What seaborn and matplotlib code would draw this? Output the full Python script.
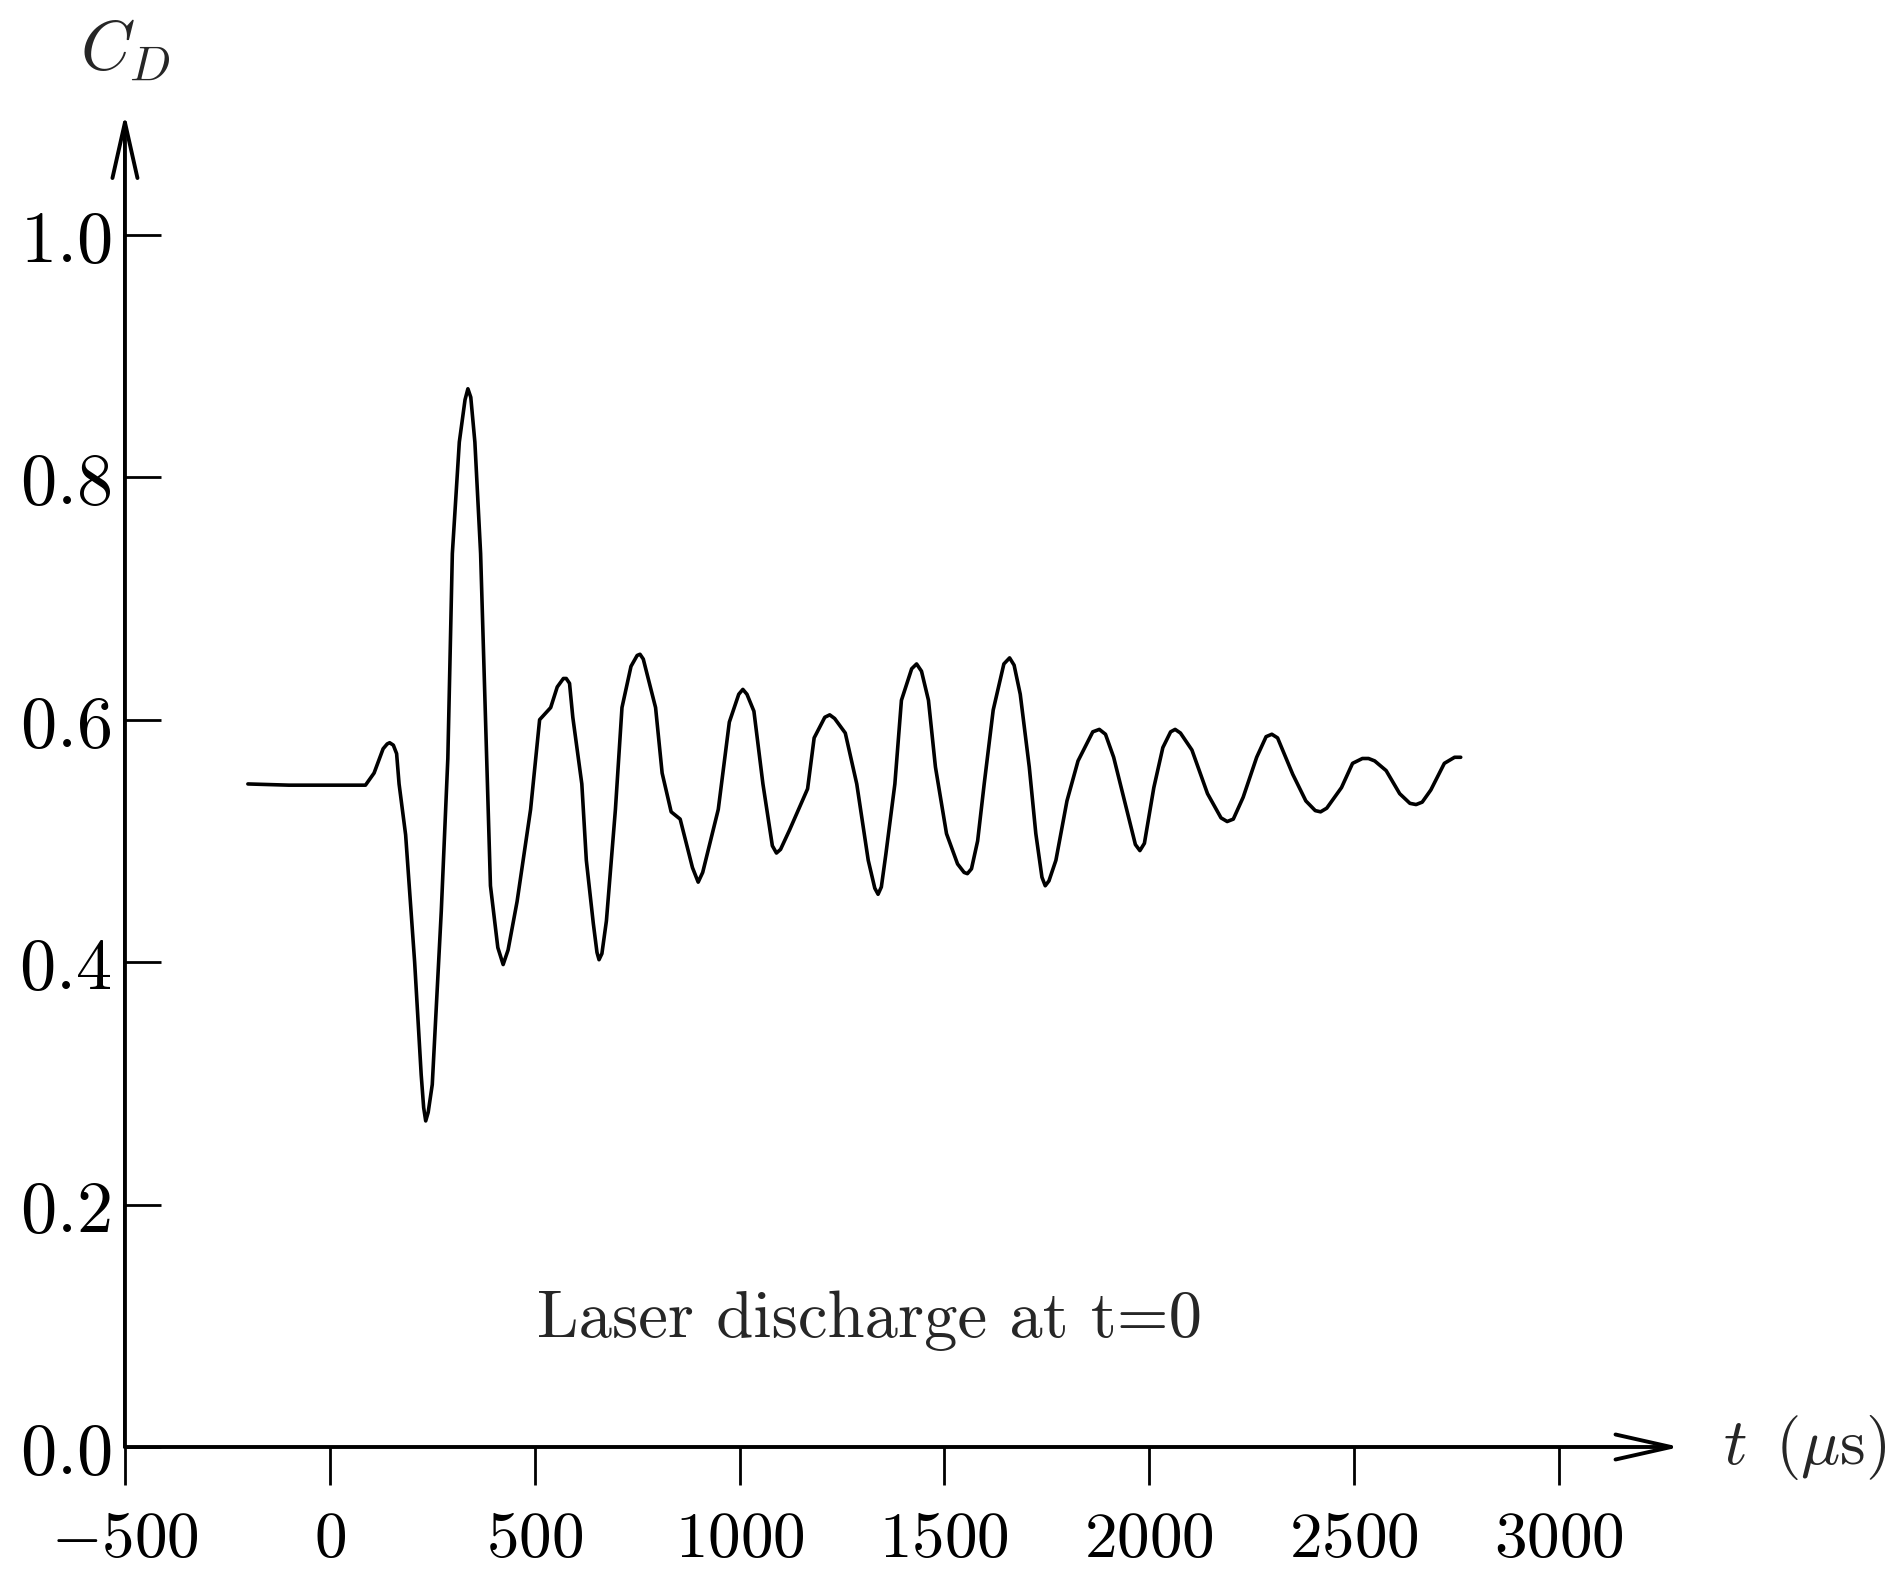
import matplotlib
matplotlib.use("Agg")
import matplotlib.pyplot as plt
import seaborn as sns

# drag coefficient trace
t_us = [-200, -100, 0, 87, 108, 130, 140, 146, 155, 163, 169, 185, 207, 223, 229,
        234, 240, 250, 272, 288, 299, 316, 330, 337, 344, 354, 368, 381, 392, 410,
        423, 435, 457, 490, 512, 539, 555, 570, 577, 585, 593, 615, 626, 643, 652,
        657, 664, 675, 697, 713, 735, 750, 757, 765, 795, 811, 833, 855, 885, 899,
        910, 948, 975, 998, 1008, 1018, 1035, 1057, 1080, 1090, 1100, 1122, 1166,
        1182, 1208, 1220, 1232, 1258, 1286, 1314, 1330, 1338, 1346, 1357, 1379,
        1395, 1420, 1432, 1444, 1461, 1478, 1505, 1532, 1548, 1556, 1566, 1581,
        1597, 1619, 1645, 1659, 1670, 1685, 1707, 1723, 1738, 1746, 1755, 1772,
        1799, 1826, 1862, 1878, 1893, 1913, 1935, 1966, 1977, 1988, 2011, 2033,
        2052, 2063, 2076, 2104, 2142, 2175, 2190, 2205, 2229, 2262, 2285, 2299,
        2313, 2350, 2382, 2405, 2418, 2433, 2469, 2496, 2520, 2535, 2550, 2578,
        2611, 2636, 2651, 2666, 2687, 2720, 2745, 2760]
cd = [0.547, 0.546, 0.546, 0.546, 0.556, 0.576, 0.580, 0.581, 0.579, 0.572, 0.547,
      0.505, 0.400, 0.307, 0.280, 0.269, 0.276, 0.299, 0.442, 0.568, 0.737, 0.829,
      0.864, 0.873, 0.866, 0.829, 0.737, 0.589, 0.463, 0.412, 0.398, 0.410, 0.450,
      0.526, 0.600, 0.610, 0.627, 0.634, 0.634, 0.630, 0.602, 0.547, 0.484, 0.432,
      0.408, 0.402, 0.407, 0.434, 0.526, 0.610, 0.644, 0.653, 0.654, 0.650, 0.610,
      0.556, 0.524, 0.518, 0.478, 0.466, 0.474, 0.526, 0.598, 0.621, 0.625, 0.621,
      0.607, 0.547, 0.496, 0.490, 0.493, 0.509, 0.543, 0.585, 0.602, 0.604, 0.601,
      0.589, 0.547, 0.484, 0.461, 0.456, 0.462, 0.489, 0.547, 0.616, 0.642, 0.646,
      0.640, 0.616, 0.561, 0.506, 0.481, 0.474, 0.473, 0.477, 0.500, 0.547, 0.608,
      0.646, 0.651, 0.645, 0.621, 0.561, 0.506, 0.470, 0.463, 0.467, 0.484, 0.533,
      0.566, 0.590, 0.592, 0.588, 0.569, 0.539, 0.497, 0.492, 0.498, 0.544, 0.577,
      0.590, 0.592, 0.589, 0.575, 0.539, 0.519, 0.516, 0.518, 0.536, 0.569, 0.586,
      0.588, 0.585, 0.555, 0.533, 0.525, 0.524, 0.527, 0.544, 0.564, 0.568, 0.568,
      0.566, 0.558, 0.539, 0.531, 0.530, 0.532, 0.542, 0.564, 0.569, 0.569]

x_ticks = [-500, 0, 500, 1000, 1500, 2000, 2500, 3000]
y_ticks = [0.0, 0.2, 0.4, 0.6, 0.8, 1.0]

sns.set_theme(style="white")
plt.rcParams["mathtext.fontset"] = "cm"

fig = plt.figure(figsize=(18.99, 15.73), dpi=100)
ax = fig.add_axes([0.0658, 0.0801, 0.8415, 0.8862])
ax.set_xlim(-500, 3400)
ax.set_ylim(0.0, 1.15)

sns.lineplot(x=t_us, y=cd, ax=ax, color="black", linewidth=2.6)

for s in ax.spines.values():
    s.set_visible(False)

# axes drawn as arrows, LaTeX style
arrow = dict(arrowstyle="->,head_length=4.0,head_width=0.9", color="black",
             lw=2.8, shrinkA=0, shrinkB=0, mutation_scale=10)
ax.annotate("", xy=(-500, 1.10), xytext=(-500, 0.0), arrowprops=arrow,
            annotation_clip=False)
ax.annotate("", xy=(3295, 0.0), xytext=(-500, 0.0), arrowprops=arrow,
            annotation_clip=False)

ax.set_xticks(x_ticks)
ax.set_xticklabels([f"${v}$" for v in x_ticks])
ax.set_yticks(y_ticks)
ax.set_yticklabels([f"${v:.1f}$" for v in y_ticks])
ax.tick_params(axis="x", direction="out", length=27, width=2.0, pad=16,
               labelsize=47, bottom=True, colors="black")
ax.tick_params(axis="y", direction="in", length=26, width=2.0, pad=10,
               labelsize=52, left=True, colors="black")
ax.set_xlabel("")
ax.set_ylabel("")

ax.text(-500, 1.152, r"$C_D$", fontsize=50, ha="center", va="center",
        clip_on=False)
ax.text(3400, 0.0, r"$t\ \,(\mu\mathrm{s})$", fontsize=47, ha="left",
        va="center", clip_on=False)
ax.text(505, 0.104, "Laser discharge at t=0", fontsize=48,
        family="cmr10", ha="left", va="center")

fig.savefig("out.png", dpi=100, facecolor="white")
